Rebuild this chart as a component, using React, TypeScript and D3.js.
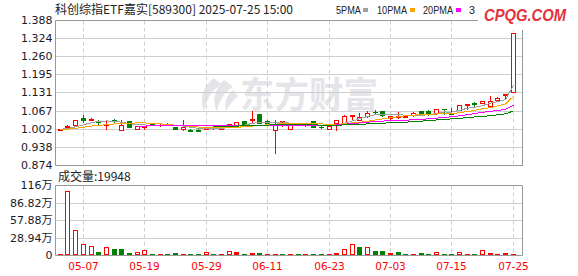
import React from 'react';
import * as d3 from 'd3';

const dates = [
  '04-29','04-30','05-06','05-07','05-08','05-09','05-12','05-13','05-14','05-15',
  '05-16','05-19','05-20','05-21','05-22','05-23','05-26','05-27','05-28','05-29',
  '05-30','06-03','06-04','06-05','06-06','06-09','06-10','06-11','06-12','06-13',
  '06-16','06-17','06-18','06-19','06-20','06-23','06-24','06-25','06-26','06-27',
  '06-30','07-01','07-02','07-03','07-04','07-07','07-08','07-09','07-10','07-11',
  '07-14','07-15','07-16','07-17','07-18','07-21','07-22','07-23','07-24','07-25',
];

const opens = [
  0.999, 1.010, 1.019, 1.044, 1.037, 1.031, 1.017, 1.034, 1.001, 1.031,
  1.005, 1.009, 1.021, 1.016, 1.020, 1.009, 1.003, 1.001, 1.001, 1.005,
  1.010, 1.005, 1.012, 1.019, 1.031, 1.036, 1.056, 1.030, 1.001, 1.027,
  1.004, 1.020, 1.016, 1.031, 1.011, 1.004, 1.025, 1.025, 1.049, 1.036,
  1.048, 1.064, 1.066, 1.041, 1.046, 1.046, 1.052, 1.067, 1.068, 1.059,
  1.075, 1.059, 1.071, 1.089, 1.094, 1.096, 1.085, 1.105, 1.124, 1.136,
];
const closes = [
  1.005, 1.013, 1.035, 1.037, 1.040, 1.028, 1.019, 1.032, 1.019, 1.012,
  1.014, 1.013, 1.020, 1.018, 1.018, 1.005, 1.009, 0.998, 0.997, 1.011,
  1.006, 1.012, 1.020, 1.028, 1.019, 1.039, 1.026, 1.026, 1.020, 1.030,
  1.017, 1.019, 1.017, 1.011, 1.009, 1.014, 1.034, 1.050, 1.052, 1.045,
  1.060, 1.062, 1.053, 1.049, 1.049, 1.048, 1.061, 1.055, 1.055, 1.075,
  1.073, 1.058, 1.087, 1.092, 1.092, 1.102, 1.102, 1.114, 1.128, 1.344,
];
const highs = [
  1.005, 1.019, 1.035, 1.052, 1.042, 1.036, 1.037, 1.038, 1.036, 1.032,
  1.015, 1.014, 1.023, 1.020, 1.023, 1.010, 1.034, 1.002, 1.002, 1.012,
  1.011, 1.019, 1.021, 1.029, 1.032, 1.067, 1.057, 1.035, 1.037, 1.031,
  1.018, 1.021, 1.018, 1.032, 1.017, 1.015, 1.035, 1.052, 1.053, 1.060,
  1.067, 1.069, 1.068, 1.050, 1.064, 1.049, 1.062, 1.068, 1.069, 1.076,
  1.076, 1.077, 1.088, 1.093, 1.100, 1.103, 1.120, 1.118, 1.129, 1.345,
];
const lows = [
  0.999, 1.009, 1.018, 1.028, 1.034, 1.022, 1.004, 1.026, 1.000, 1.011,
  1.004, 1.003, 1.018, 1.015, 1.016, 1.004, 1.001, 0.997, 0.996, 1.004,
  1.005, 1.004, 1.011, 1.018, 1.018, 1.024, 1.025, 1.020, 0.918, 1.013,
  1.003, 1.017, 1.015, 1.010, 1.008, 1.003, 1.001, 1.024, 1.034, 1.035,
  1.047, 1.055, 1.050, 1.040, 1.043, 1.045, 1.051, 1.054, 1.054, 1.058,
  1.056, 1.057, 1.070, 1.075, 1.085, 1.095, 1.084, 1.104, 1.112, 1.135,
];
// closes of the trading days before the visible window (estimated from the MA starts)
const priorCloses = [1.000, 1.002, 1.001, 1.000, 0.999, 1.001, 1.003, 1.002, 1.001];

// volume in 万
const volumes = [
  2.5, 107, 42.5, 19.2, 15.8, 6.4, 13.6, 10.8, 10.8, 4.7,
  6.4, 9.2, 2.2, 2.2, 2.2, 4.2, 2.2, 2.2, 2.2, 5.8,
  2.2, 2.2, 7.5, 6.4, 2.2, 4.2, 4.2, 2.2, 2.2, 2.2,
  2.2, 2.2, 2.2, 2.2, 2.2, 2.2, 4.7, 10.3, 19.2, 14.2,
  13.6, 7.5, 7.5, 4.7, 5.8, 2.5, 2.5, 4.7, 2.5, 5.8,
  2.5, 2.5, 5.8, 2.5, 2.5, 9.2, 4.7, 2.5, 4.7, 2.0,
];
// h = rising hollow, f = rising filled, g = falling
const volumeKinds = [
  'f','h','h','h','h','g','h','g','g','g',
  'h','h','g','f','g','g','f','g','g','h',
  'g','f','h','f','g','f','g','f','f','g',
  'f','g','f','g','g','f','f','h','h','g',
  'h','g','g','f','g','g','f','g','g','h',
  'g','g','h','f','g','h','f','f','f','f',
];

const priceTicks = [0.874, 0.93825, 1.0025, 1.06675, 1.131, 1.19525, 1.2595, 1.32375, 1.388];
const priceTickLabels = ['0.874', '0.938', '1.002', '1.067', '1.131', '1.195', '1.260', '1.324', '1.388'];
const volumeTicks = [0, 28.94, 57.88, 86.82, 115.76];
const volumeTickLabels = ['0', '28.94万', '57.88万', '86.82万', '116万'];
const xTickDates = ['05-07', '05-19', '05-29', '06-11', '06-23', '07-03', '07-15', '07-25'];
const maPeriods = [5, 10, 20, 30];
// the 30PMA legend entry is cut off by the site logo in the source, only "3" shows
const maLabels = ['5PMA', '10PMA', '20PMA', '3'];
const titleText = '科创综指ETF嘉实[589300] 2025-07-25 15:00';
const volumeTitle = '成交量:19948';

const RED = '#ff0000';
const GREEN = '#008000';
const MA_COLORS = ['#a0a0a0', '#ffa500', '#ff00ff', '#008000'];
const GRID = '#cfcfcf';
const BORDER = '#999999';

export default function App() {
  const W = 578, H = 276;
  const L = 55.5, R = 522.5, PT = 20.5, PB = 165.5, VT = 185.5, VB = 255.5;

  const x = d3.scalePoint<string>().domain(dates).range([60.3, 513.3]);
  const y = d3.scaleLinear().domain([priceTicks[0], priceTicks[priceTicks.length - 1]]).range([PB, PT]);
  const vy = d3.scaleLinear().domain([0, volumeTicks[volumeTicks.length - 1]]).range([VB, VT]);
  const col = (d: string) => Math.floor(x(d) as number);
  const gy = (v: number) => Math.floor(y(v)) + 0.5;

  const allCloses = priorCloses.concat(closes);
  const maSeries = maPeriods.map((p) =>
    dates.map((d, i) => {
      const idx = i + priorCloses.length;
      if (idx + 1 < p) return null;
      return { d, v: d3.mean(allCloses.slice(idx - p + 1, idx + 1)) as number };
    })
  );
  const lineGen = d3
    .line<{ d: string; v: number } | null>()
    .defined((p) => p !== null)
    .x((p) => col(p!.d) + 0.5)
    .y((p) => y(p!.v));

  const candles = dates.map((d, i) => {
    const o = opens[i], c = closes[i], h = highs[i], l = lows[i];
    const up = c >= o;
    const color = up ? RED : GREEN;
    const cx = col(d);
    const top = Math.round(y(Math.max(o, c)));
    const bot = Math.round(y(Math.min(o, c)));
    const wy1 = Math.round(y(h));
    const wy2 = Math.round(y(l)) + 1;
    let body;
    if (bot - top < 2 || !up) {
      body = <rect x={cx - 2} y={top} width={5} height={Math.max(bot - top + 1, 1)} fill={color} />;
    } else {
      body = (
        <rect x={cx - 1.5} y={top + 0.5} width={4} height={bot - top} fill="#fff" stroke={color} strokeWidth={1} />
      );
    }
    return (
      <g key={d}>
        <line x1={cx + 0.5} x2={cx + 0.5} y1={wy1} y2={wy2} stroke={color} strokeWidth={1} />
        {body}
      </g>
    );
  });

  const volBars = dates.map((d, i) => {
    const kind = volumeKinds[i];
    const cx = col(d);
    const top = Math.min(Math.round(vy(volumes[i])), 254);
    const color = kind === 'g' ? GREEN : RED;
    if (kind === 'h' && 255 - top > 2) {
      return (
        <rect key={d} x={cx - 1.5} y={top + 0.5} width={4} height={254 - top} fill="#fff" stroke={color} strokeWidth={1} />
      );
    }
    return <rect key={d} x={cx - 2} y={top} width={5} height={255 - top} fill={color} />;
  });

  const legendX = [336, 377, 423, 469];
  const legendW = [25, 30, 30, 6];
  const markerX = [363, 410, 456];

  return (
    <svg width={W} height={H} style={{ position: 'absolute', left: 0, top: 0, background: '#fff' }}>
      <rect x={0} y={0} width={W} height={H} fill="#fff" />

      {/* watermark */}
      <g fill="#e4e4e9">
        <path d="M214,78 C203,86 199,98 204,112 C206,100 211,90 222,84 C218,82 216,80 214,78 Z" />
        <path d="M224,80 C214,90 212,101 217,112 C219,101 224,92 233,87 C230,84 227,82 224,80 Z" />
        <path d="M233,90 C226,96 224,104 226,111 C230,104 234,99 238,96 Z" />
        <text x={240} y={108} fontSize={36} fontWeight={700} fontFamily="'Noto Sans CJK SC'" textLength={138} lengthAdjust="spacingAndGlyphs">
          东方财富
        </text>
      </g>

      {/* price grid */}
      {priceTicks.slice(1, -1).map((t) => (
        <line key={t} x1={L} x2={R} y1={gy(t)} y2={gy(t)} stroke={GRID} strokeWidth={1} />
      ))}
      {xTickDates.map((d) => (
        <line key={d} x1={col(d) + 0.5} x2={col(d) + 0.5} y1={PT} y2={PB} stroke={GRID} strokeWidth={1} strokeDasharray="4,3" />
      ))}
      {/* price frame */}
      <line x1={L} x2={R} y1={PT} y2={PT} stroke={BORDER} />
      <line x1={L} x2={R} y1={PB} y2={PB} stroke={BORDER} />
      <line x1={L} x2={L} y1={PT} y2={PB} stroke={BORDER} />
      <line x1={R} x2={R} y1={PT} y2={PB} stroke={BORDER} />

      {candles}

      {maSeries.map((s, k) => (
        <path key={k} d={lineGen(s) || ''} fill="none" stroke={MA_COLORS[k]} strokeWidth={1} shapeRendering="crispEdges" />
      ))}

      {/* price labels */}
      {priceTicks.map((t, k) => (
        <text key={t} x={52.5} y={gy(t) + 3.5} textAnchor="end" fontSize={11} fontFamily="'DejaVu Sans'" fill="#1a1a2a">
          {priceTickLabels[k]}
        </text>
      ))}

      {/* volume grid */}
      {volumeTicks.slice(1, -1).map((t) => (
        <line key={t} x1={L} x2={R} y1={Math.floor(vy(t)) + 0.5} y2={Math.floor(vy(t)) + 0.5} stroke={GRID} />
      ))}
      {xTickDates.map((d) => (
        <line key={d} x1={col(d) + 0.5} x2={col(d) + 0.5} y1={VT} y2={VB} stroke={GRID} strokeDasharray="4,3" />
      ))}
      {volBars}
      <line x1={L} x2={R} y1={VT} y2={VT} stroke={BORDER} />
      <line x1={L} x2={R} y1={VB} y2={VB} stroke={BORDER} />
      <line x1={L} x2={L} y1={VT} y2={VB} stroke={BORDER} />
      <line x1={R} x2={R} y1={VT} y2={VB} stroke={BORDER} />

      {volumeTicks.map((t, k) => (
        <text key={t} x={52.5} y={Math.floor(vy(t)) + 4} textAnchor="end" fontSize={11} fontFamily="'DejaVu Sans', 'Noto Sans CJK SC'" fill="#1a1a2a">
          {volumeTickLabels[k]}
        </text>
      ))}

      {/* x labels */}
      {xTickDates.map((d) => (
        <text key={d} x={col(d) + 0.5} y={270} textAnchor="middle" fontSize={10.5} fontFamily="'DejaVu Sans'" fill={RED}>
          {d}
        </text>
      ))}

      {/* titles */}
      <text x={55} y={13.5} fontSize={12} fontFamily="'Noto Sans CJK SC'" fill="#222" textLength={238} lengthAdjust="spacing">
        {titleText}
      </text>
      <text x={58} y={181} fontSize={12} fontFamily="'Noto Sans CJK SC'" fill="#222">
        {volumeTitle}
      </text>

      {/* legend */}
      {maLabels.map((m, k) => (
        <text key={m} x={legendX[k]} y={13.5} fontSize={11} fontFamily="'Liberation Sans'" fill="#222" textLength={legendW[k]} lengthAdjust="spacingAndGlyphs">
          {m}
        </text>
      ))}
      {markerX.map((mx, k) => (
        <rect key={mx} x={mx} y={8} width={5} height={4} fill={MA_COLORS[k]} />
      ))}

      {/* site logo */}
      <rect x={478} y={0} width={100} height={30} fill="#fff" />
      <line x1={R} x2={R} y1={30} y2={PB} stroke={BORDER} />
      <text x={484} y={21} fontSize={17} fontWeight={700} fontStyle="italic" fontFamily="'Liberation Sans'" fill="#e3323b" textLength={82} lengthAdjust="spacingAndGlyphs">
        CPQG.COM
      </text>
    </svg>
  );
}
